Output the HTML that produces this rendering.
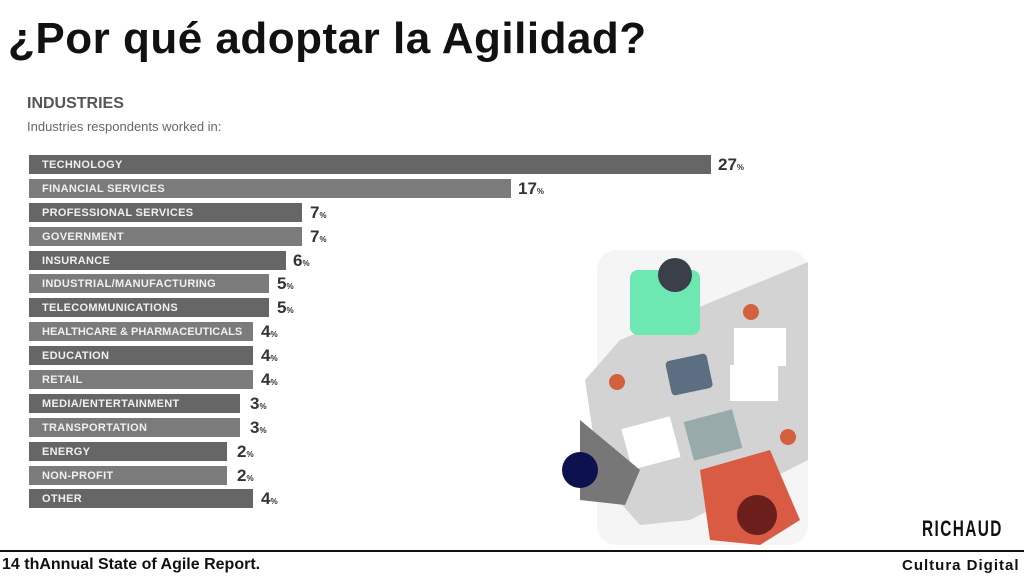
<!DOCTYPE html>
<html><head><meta charset="utf-8"><style>
body{margin:0;width:1024px;height:576px;background:#fff;position:relative;overflow:hidden;font-family:"Liberation Sans",sans-serif}
.t{position:absolute;left:8px;top:14px;font-size:44px;font-weight:bold;color:#111;letter-spacing:0.5px}
.bar{position:absolute;left:29px;height:19px;color:#f0f0f0;font-size:11px;font-weight:bold;line-height:20px;padding-left:13px;box-sizing:border-box;letter-spacing:0.3px;white-space:nowrap;overflow:hidden}
.v{position:absolute;font-size:17px;font-weight:bold;color:#333;line-height:20px}
.v small{font-size:8px}
</style></head><body>
<div class="t">¿Por qué adoptar la Agilidad?</div>
<div style="position:absolute;left:27px;top:95px;font-size:16px;font-weight:bold;color:#555">INDUSTRIES</div>
<div style="position:absolute;left:27px;top:119px;font-size:13px;color:#666">Industries respondents worked in:</div>
<svg style="position:absolute;left:0;top:0" width="1024" height="576">
<rect x="597" y="250" width="211" height="295" rx="20" fill="#f5f5f5"/>
<polygon points="808,262 808,460 690,520 640,525 600,480 585,380 620,340" fill="#d3d3d3"/>
<rect x="630" y="270" width="70" height="65" rx="8" fill="#6ee8b2"/>
<circle cx="675" cy="275" r="17" fill="#3a3f4a"/>
<rect x="668" y="357" width="42" height="35" rx="4" fill="#5c6f82" transform="rotate(-12 689 374)"/>
<rect x="734" y="328" width="52" height="38" fill="#fff"/>
<rect x="730" y="365" width="48" height="36" fill="#fff"/>
<rect x="626" y="422" width="50" height="42" fill="#fff" transform="rotate(-15 651 443)"/>
<rect x="688" y="415" width="50" height="40" fill="#9aa" transform="rotate(-15 713 435)"/>
<circle cx="751" cy="312" r="8" fill="#d3603f"/><circle cx="617" cy="382" r="8" fill="#d3603f"/><circle cx="788" cy="437" r="8" fill="#d3603f"/>
<polygon points="580,420 640,470 625,505 580,500" fill="#777"/>
<circle cx="580" cy="470" r="18" fill="#0e1150"/>
<polygon points="700,470 770,450 800,520 760,545 710,540" fill="#d95b43"/>
<circle cx="757" cy="515" r="20" fill="#6b1e1c"/>
<line x1="0" y1="551" x2="1024" y2="551" stroke="#111" stroke-width="2"/>
</svg>
<div class="bar" style="top:155px;width:682px;background:#666">TECHNOLOGY</div><div class="v" style="top:155px;left:718px">27<small>%</small></div>
<div class="bar" style="top:179px;width:482px;background:#7b7b7b">FINANCIAL SERVICES</div><div class="v" style="top:179px;left:518px">17<small>%</small></div>
<div class="bar" style="top:203px;width:273px;background:#666">PROFESSIONAL SERVICES</div><div class="v" style="top:203px;left:310px">7<small>%</small></div>
<div class="bar" style="top:227px;width:273px;background:#7b7b7b">GOVERNMENT</div><div class="v" style="top:227px;left:310px">7<small>%</small></div>
<div class="bar" style="top:251px;width:257px;background:#666">INSURANCE</div><div class="v" style="top:251px;left:293px">6<small>%</small></div>
<div class="bar" style="top:274px;width:240px;background:#7b7b7b">INDUSTRIAL/MANUFACTURING</div><div class="v" style="top:274px;left:277px">5<small>%</small></div>
<div class="bar" style="top:298px;width:240px;background:#666">TELECOMMUNICATIONS</div><div class="v" style="top:298px;left:277px">5<small>%</small></div>
<div class="bar" style="top:322px;width:224px;background:#7b7b7b;letter-spacing:0">HEALTHCARE &amp; PHARMACEUTICALS</div><div class="v" style="top:322px;left:261px">4<small>%</small></div>
<div class="bar" style="top:346px;width:224px;background:#666">EDUCATION</div><div class="v" style="top:346px;left:261px">4<small>%</small></div>
<div class="bar" style="top:370px;width:224px;background:#7b7b7b">RETAIL</div><div class="v" style="top:370px;left:261px">4<small>%</small></div>
<div class="bar" style="top:394px;width:211px;background:#666">MEDIA/ENTERTAINMENT</div><div class="v" style="top:394px;left:250px">3<small>%</small></div>
<div class="bar" style="top:418px;width:211px;background:#7b7b7b">TRANSPORTATION</div><div class="v" style="top:418px;left:250px">3<small>%</small></div>
<div class="bar" style="top:442px;width:198px;background:#666">ENERGY</div><div class="v" style="top:442px;left:237px">2<small>%</small></div>
<div class="bar" style="top:466px;width:198px;background:#7b7b7b">NON-PROFIT</div><div class="v" style="top:466px;left:237px">2<small>%</small></div>
<div class="bar" style="top:489px;width:224px;background:#666">OTHER</div><div class="v" style="top:489px;left:261px">4<small>%</small></div>
<div style="position:absolute;left:922px;top:516px;font-size:22px;font-weight:bold;color:#111;letter-spacing:2px;transform:scaleX(0.7);transform-origin:left">RICHAUD</div>
<div style="position:absolute;left:2px;top:556px;font-size:16px;font-weight:bold;color:#111">14 thAnnual State of Agile Report.</div>
<div style="position:absolute;left:902px;top:557px;font-size:15px;font-weight:bold;color:#111;letter-spacing:1px">Cultura Digital</div>
</body></html>
